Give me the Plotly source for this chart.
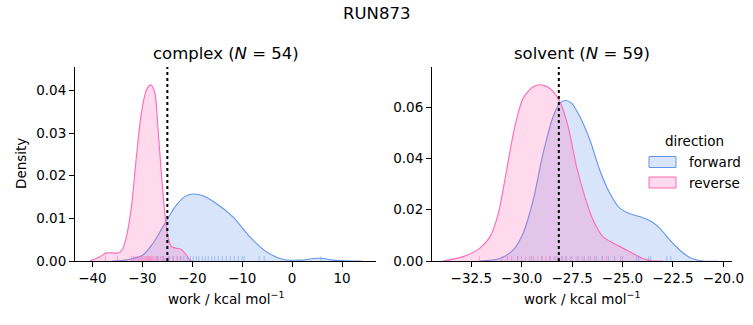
import plotly.graph_objects as go

# ---------------- data ----------------
suptitle = "RUN873"

# complex leg: KDE curves (x, density)
cx_fwd = [-36.0, -33.0, -29.9, -27.9, -25.9, -24.5, -23.2, -21.5, -19.9, -17.9, -15.2, -11.9, -8.5, -5.2, -1.9, 1.5, 4.5, 6.1, 8.1, 12.0, 14.0]
cy_fwd = [0.0, 0.0003, 0.0014, 0.0041, 0.0080, 0.0108, 0.0131, 0.0151, 0.0157, 0.0153, 0.0135, 0.0104, 0.0057, 0.0022, 0.0004, 0.0002, 0.0006, 0.0006, 0.0002, 0.0, 0.0]
cx_rev = [-40.5, -38.5, -37.2, -34.9, -34.0, -33.2, -32.2, -31.2, -30.2, -29.2, -28.3, -27.5, -26.9, -26.2, -25.5, -24.9, -24.2, -23.2, -22.2, -21.2, -20.5, -20.0]
cy_rev = [0.0, 0.0010, 0.0019, 0.0019, 0.0027, 0.0057, 0.0127, 0.0245, 0.0347, 0.0401, 0.0413, 0.0394, 0.0315, 0.0206, 0.0112, 0.0057, 0.0034, 0.0030, 0.0027, 0.0014, 0.0002, 0.0]

# solvent leg: KDE curves
sx_fwd = [-32.07, -31.08, -30.42, -29.93, -29.43, -28.94, -28.44, -28.11, -27.83, -27.53, -27.12, -26.62, -26.13, -25.63, -25.14, -24.64, -24.06, -23.57, -23.16, -22.66, -22.17, -21.67, -21.0, -20.3]
sy_fwd = [0.0, 0.0010, 0.0043, 0.0108, 0.0238, 0.0420, 0.0564, 0.0616, 0.0626, 0.0616, 0.0564, 0.0473, 0.0355, 0.0264, 0.0206, 0.0184, 0.0171, 0.0154, 0.0128, 0.0082, 0.0043, 0.0014, 0.0, 0.0]
sx_rev = [-33.9, -32.9, -32.07, -31.57, -31.16, -30.75, -30.34, -29.93, -29.43, -28.99, -28.52, -28.11, -27.70, -27.28, -26.87, -26.46, -25.97, -25.30, -24.64, -23.99, -23.49, -23.0]
sy_rev = [0.0, 0.0017, 0.0050, 0.0095, 0.0186, 0.0355, 0.0525, 0.0635, 0.0680, 0.0687, 0.0668, 0.0622, 0.0525, 0.0368, 0.0251, 0.0160, 0.0095, 0.0063, 0.0036, 0.0010, 0.0, 0.0]

# rug samples
c_rug_fwd = [-27.0, -25.8, -24.6, -23.8, -23.0, -22.3, -21.7, -21.0, -20.4, -19.8, -19.2, -18.7, -18.0, -17.4, -16.8, -16.1, -15.5, -14.8, -14.0, -13.2, -12.4, -11.6, -10.8, -10.0, -9.6, -6.6, -5.6, 5.8]
c_rug_rev = [-37.4, -35.0, -32.2, -31.8, -31.5, -31.1, -30.8, -30.5, -30.2, -30.0, -29.7, -29.5, -29.2, -29.0, -28.8, -28.6, -28.4, -28.2, -28.0, -27.7, -27.4, -27.1, -26.8, -26.4, -26.0, -25.5, -24.8, -23.9, -23.0, -22.4]
s_rug_fwd = [-30.2, -29.5, -29.0, -28.6, -28.3, -28.0, -27.8, -27.5, -27.2, -26.9, -26.6, -26.3, -26.0, -25.7, -25.4, -25.0, -24.3, -24.2, -23.7, -23.6, -22.8, -22.6]
s_rug_rev = [-32.1, -31.0, -30.7, -30.5, -30.2, -30.0, -29.8, -29.6, -29.4, -29.2, -29.0, -28.8, -28.6, -28.4, -28.2, -28.0, -27.8, -27.6, -27.3, -27.0, -26.7, -26.4, -26.0, -25.8, -25.1]

# estimates (dotted lines)
c_estimate = -25.0
s_estimate = -28.16

titles = ["complex (<i>N</i> = 54)", "solvent (<i>N</i> = 59)"]
directions = ["forward", "reverse"]
legend_title = "direction"
xlabel = "work / kcal mol<sup>−1</sup>"
ylabel = "Density"

left_xticks = [-40, -30, -20, -10, 0, 10]
left_yticks = [0.0, 0.01, 0.02, 0.03, 0.04]
right_xticks = [-32.5, -30.0, -27.5, -25.0, -22.5, -20.0]
right_yticks = [0.0, 0.02, 0.04, 0.06]

# ---------------- style ----------------
W, H = 753, 325
FONT = "DejaVu Sans"
BLUE = "#6495ED"
PINK = "#FF69B4"
FILL = {"forward": "rgba(100,149,237,0.25)", "reverse": "rgba(255,105,180,0.25)"}
RUG = {"forward": "rgba(100,149,237,0.5)", "reverse": "rgba(255,105,180,0.5)"}
LINE = {"forward": BLUE, "reverse": PINK}

def px_x(p):
    return p / W

def px_y(p):
    return 1 - p / H

dom1 = [px_x(75), px_x(376)]
dom2 = [px_x(432), px_x(732)]
ydom = [px_y(261), px_y(67)]

fig = go.Figure()

panels = [
    ("x", "y", {"forward": (cx_fwd, cy_fwd), "reverse": (cx_rev, cy_rev)},
     {"forward": c_rug_fwd, "reverse": c_rug_rev}, c_estimate),
    ("x2", "y2", {"forward": (sx_fwd, sy_fwd), "reverse": (sx_rev, sy_rev)},
     {"forward": s_rug_fwd, "reverse": s_rug_rev}, s_estimate),
]

shapes = []
for xa, ya, curves, rugs, est in panels:
    for d in directions:
        xs, ys = curves[d]
        fig.add_trace(go.Scatter(
            x=xs, y=ys, xaxis=xa, yaxis=ya, mode="lines",
            line=dict(color=LINE[d], width=1.1, shape="spline", smoothing=0.8),
            fill="tozeroy", fillcolor=FILL[d], name=d,
            showlegend=False, hoverinfo="skip"))
    for d in directions:
        for v in rugs[d]:
            shapes.append(dict(type="line", xref=xa, yref=ya + " domain",
                               x0=v, x1=v, y0=0, y1=0.025,
                               line=dict(color=RUG[d], width=1)))
    shapes.append(dict(type="line", xref=xa, yref=ya + " domain",
                       x0=est, x1=est, y0=0, y1=1,
                       line=dict(color="black", width=2, dash="dot")))

# manual legend (matplotlib-style patches)
ann = []
ann.append(dict(text=legend_title, x=px_x(694), y=px_y(141), xref="paper", yref="paper",
                showarrow=False, font=dict(family=FONT, size=13.5), xanchor="center", yanchor="middle"))
for i, d in enumerate(directions):
    yc = 162 + 20.5 * i
    shapes.append(dict(type="rect", xref="paper", yref="paper",
                       x0=px_x(649), x1=px_x(676), y0=px_y(yc - 5.5), y1=px_y(yc + 5.5),
                       fillcolor=FILL[d], line=dict(color=LINE[d], width=1)))
    ann.append(dict(text=d, x=px_x(687), y=px_y(yc), xref="paper", yref="paper",
                    showarrow=False, font=dict(family=FONT, size=13.5), xanchor="left", yanchor="middle"))

axis_common = dict(showline=True, linecolor="black", linewidth=1, ticks="outside",
                   ticklen=5, tickwidth=1, tickcolor="black", showgrid=False,
                   zeroline=False, mirror=False, automargin=False,
                   tickfont=dict(family=FONT, size=13.5, color="black"))

fig.update_layout(
    width=W, height=H, margin=dict(l=0, r=0, t=0, b=0, autoexpand=False),
    paper_bgcolor="white", plot_bgcolor="white",
    font=dict(family=FONT, size=13.5, color="black"),
    xaxis=dict(domain=dom1, range=[-43.5, 16.8], tickvals=left_xticks, anchor="y", **axis_common),
    yaxis=dict(domain=ydom, range=[0, 0.0455], tickvals=left_yticks, tickformat=".2f", anchor="x", **axis_common),
    xaxis2=dict(domain=dom2, range=[-34.45, -19.57], tickvals=right_xticks, tickformat=".1f", anchor="y2", **axis_common),
    yaxis2=dict(domain=ydom, range=[0, 0.0757], tickvals=right_yticks, tickformat=".2f", anchor="x2", **axis_common),
    shapes=shapes,
    showlegend=False,
)

ann += [
    dict(text=suptitle, x=0.5, y=px_y(13), xref="paper", yref="paper",
         showarrow=False, font=dict(family=FONT, size=16.5), xanchor="center", yanchor="middle"),
    dict(text=titles[0], x=(dom1[0] + dom1[1]) / 2, y=px_y(54), xref="paper", yref="paper",
         showarrow=False, font=dict(family=FONT, size=16.5), xanchor="center", yanchor="middle"),
    dict(text=titles[1], x=(dom2[0] + dom2[1]) / 2, y=px_y(54), xref="paper", yref="paper",
         showarrow=False, font=dict(family=FONT, size=16.5), xanchor="center", yanchor="middle"),
    dict(text=xlabel, x=(dom1[0] + dom1[1]) / 2, y=px_y(298), xref="paper", yref="paper",
         showarrow=False, font=dict(family=FONT, size=13.5), xanchor="center", yanchor="middle"),
    dict(text=xlabel, x=(dom2[0] + dom2[1]) / 2, y=px_y(298), xref="paper", yref="paper",
         showarrow=False, font=dict(family=FONT, size=13.5), xanchor="center", yanchor="middle"),
    dict(text=ylabel, x=px_x(21), y=(ydom[0] + ydom[1]) / 2, xref="paper", yref="paper",
         showarrow=False, textangle=-90, font=dict(family=FONT, size=13.5), xanchor="center", yanchor="middle"),
]
fig.update_layout(annotations=ann)

fig.write_html("out.html")
